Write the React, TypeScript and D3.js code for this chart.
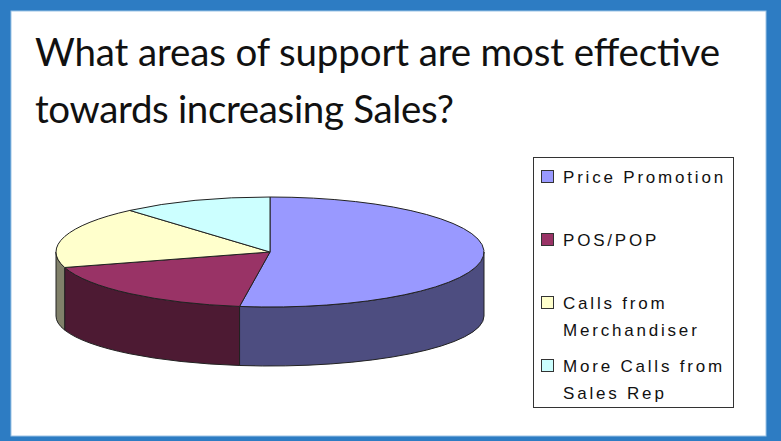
import * as d3 from "d3";

const categories = [
  "Price Promotion",
  "POS/POP",
  "Calls from Merchandiser",
  "More Calls from Sales Rep",
];
const values = [23, 8, 8, 5];
const topColors = ["#9999ff", "#993366", "#ffffcc", "#ccffff"];
const sideColors = ["#4d4d80", "#4d1a33", "#80806a", "#6a8080"];
const legendLines = [
  ["Price Promotion"],
  ["POS/POP"],
  ["Calls from", "Merchandiser"],
  ["More Calls from", "Sales Rep"],
];
const titleLines = [
  "What areas of support are most effective",
  "towards increasing Sales?",
];

const W = 781;
const H = 441;

// ellipse geometry of the tilted pie
const cx = 270;
const cy = 252;
const rx = 214;
const ry = 55;
const cyB = 316;
const ryB = 50;

function topPt(a: number): [number, number] {
  return [cx + rx * Math.sin(a), cy - ry * Math.cos(a)];
}
function botPt(a: number): [number, number] {
  return [cx + rx * Math.sin(a), cyB - ryB * Math.cos(a)];
}

export default function App() {
  const pie = d3
    .pie<number>()
    .sort(null)
    .startAngle(0)
    .endAngle(2 * Math.PI);
  const arcs = pie(values);

  const tops = arcs.map((d) => {
    const [x0, y0] = topPt(d.startAngle);
    const [x1, y1] = topPt(d.endAngle);
    const large = d.endAngle - d.startAngle > Math.PI ? 1 : 0;
    return `M${cx},${cy}L${x0},${y0}A${rx},${ry} 0 ${large} 1 ${x1},${y1}Z`;
  });

  // only the front half of the rim is visible
  const sides = arcs.map((d) => {
    const s = Math.max(d.startAngle, Math.PI / 2);
    const e = Math.min(d.endAngle, (3 * Math.PI) / 2);
    if (s >= e) return null;
    const [x0, y0] = topPt(s);
    const [x1, y1] = topPt(e);
    const [bx1, by1] = botPt(e);
    const [bx0, by0] = botPt(s);
    return `M${x0},${y0}A${rx},${ry} 0 0 1 ${x1},${y1}L${bx1},${by1}A${rx},${ryB} 0 0 0 ${bx0},${by0}Z`;
  });

  const legendY = d3
    .scaleOrdinal<string, number>()
    .domain(categories)
    .range([183, 246, 309, 372]);

  return (
    <svg
      width={W}
      height={H}
      style={{ position: "absolute", left: 0, top: 0 }}
    >
      <rect x={0} y={0} width={W} height={H} fill="#2d7cc3" />
      <rect x={11} y={11} width={755} height={425} fill="#ffffff" stroke="#9cc3e6" strokeWidth={1} />

      <g fontFamily="Lato, 'Open Sans', sans-serif" fontSize={38.5} fill="#111">
        <text x={35} y={66} textLength={685} lengthAdjust="spacing">
          {titleLines[0]}
        </text>
        <text x={35} y={123} textLength={419} lengthAdjust="spacing">
          {titleLines[1]}
        </text>
      </g>

      <g stroke="#222" strokeWidth={1} strokeLinejoin="round">
        {sides.map((p, i) =>
          p ? <path key={"s" + i} d={p} fill={sideColors[i]} /> : null
        )}
        {tops.map((p, i) => (
          <path key={"t" + i} d={p} fill={topColors[i]} />
        ))}
      </g>

      <rect x={533.5} y={157.5} width={200} height={250} fill="#fff" stroke="#333" strokeWidth={1} />
      <g
        fontFamily="'Liberation Sans', Arial, sans-serif"
        fontSize={17}
        fill="#111"
        style={{ letterSpacing: "2.8px" }}
      >
        {categories.map((c, i) => {
          const y = legendY(c);
          return (
            <g key={c}>
              <rect x={541.5} y={y - 12.5} width={12} height={12} fill={topColors[i]} stroke="#333" strokeWidth={1} />
              {legendLines[i].map((t, j) => (
                <text key={j} x={563} y={y + j * 27}>
                  {t}
                </text>
              ))}
            </g>
          );
        })}
      </g>
    </svg>
  );
}
